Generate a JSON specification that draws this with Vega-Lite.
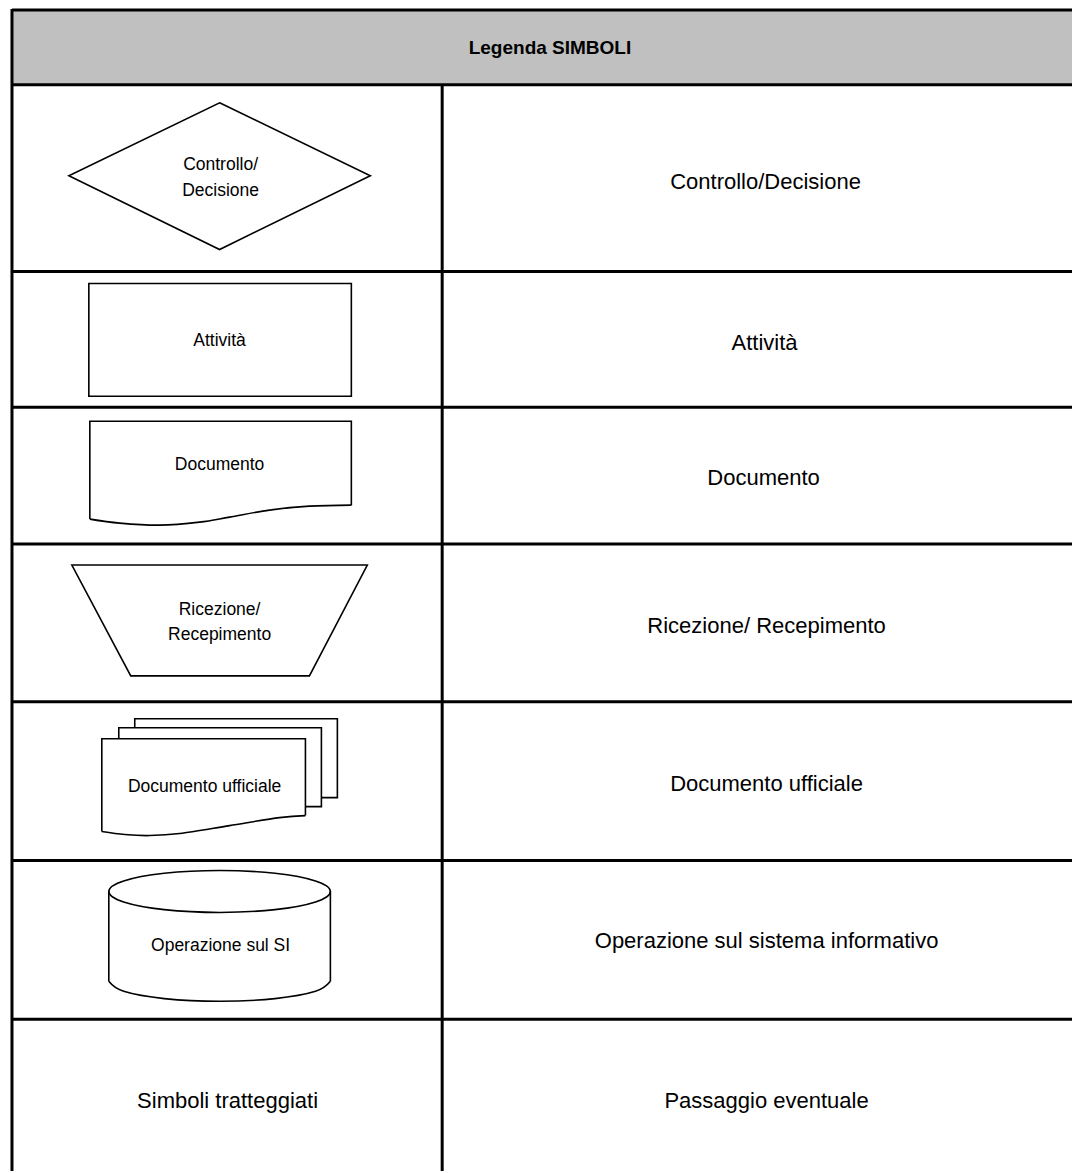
{
  "$schema": "https://vega.github.io/schema/vega-lite/v6.json",
  "width": 1074,
  "height": 1173,
  "autosize": {"type": "fit", "contains": "padding"},
  "padding": 0,
  "background": "white",
  "config": {"view": {"stroke": null}, "font": "Liberation Sans"},
  "datasets": {
    "header": [{"x": 12, "x2": 1074, "y": 10, "y2": 85}],
    "grid": [
      {"x": 12, "x2": 1074, "y": 10, "y2": 10},
      {"x": 12, "x2": 12, "y": 9, "y2": 1173},
      {"x": 12, "x2": 1074, "y": 85, "y2": 85},
      {"x": 12, "x2": 1074, "y": 272, "y2": 272},
      {"x": 12, "x2": 1074, "y": 408, "y2": 408},
      {"x": 12, "x2": 1074, "y": 545, "y2": 545},
      {"x": 12, "x2": 1074, "y": 703, "y2": 703},
      {"x": 12, "x2": 1074, "y": 862, "y2": 862},
      {"x": 12, "x2": 1074, "y": 1021, "y2": 1021},
      {"x": 443, "x2": 443, "y": 85, "y2": 1173}
    ],
    "closed": [
      {"s": "diamond", "i": 0, "x": 220, "y": 103},
      {"s": "diamond", "i": 1, "x": 371, "y": 176},
      {"s": "diamond", "i": 2, "x": 220, "y": 250},
      {"s": "diamond", "i": 3, "x": 69, "y": 176},
      {"s": "rect", "i": 0, "x": 89, "y": 284},
      {"s": "rect", "i": 1, "x": 352, "y": 284},
      {"s": "rect", "i": 2, "x": 352, "y": 397},
      {"s": "rect", "i": 3, "x": 89, "y": 397},
      {"s": "trap", "i": 0, "x": 72, "y": 566},
      {"s": "trap", "i": 1, "x": 368, "y": 566},
      {"s": "trap", "i": 2, "x": 310, "y": 677},
      {"s": "trap", "i": 3, "x": 131, "y": 677}
    ],
    "open": [
      {"s": "doc", "i": 0, "x": 90, "y": 520},
      {"s": "doc", "i": 1, "x": 90, "y": 422},
      {"s": "doc", "i": 2, "x": 352, "y": 422},
      {"s": "doc", "i": 3, "x": 352, "y": 506},
      {"s": "back", "i": 0, "x": 135, "y": 729},
      {"s": "back", "i": 1, "x": 135, "y": 720},
      {"s": "back", "i": 2, "x": 338, "y": 720},
      {"s": "back", "i": 3, "x": 338, "y": 799},
      {"s": "back", "i": 4, "x": 322, "y": 799},
      {"s": "mid", "i": 0, "x": 119, "y": 740},
      {"s": "mid", "i": 1, "x": 119, "y": 729},
      {"s": "mid", "i": 2, "x": 322, "y": 729},
      {"s": "mid", "i": 3, "x": 322, "y": 808},
      {"s": "mid", "i": 4, "x": 306, "y": 808},
      {"s": "front", "i": 0, "x": 102, "y": 833},
      {"s": "front", "i": 1, "x": 102, "y": 740},
      {"s": "front", "i": 2, "x": 306, "y": 740},
      {"s": "front", "i": 3, "x": 306, "y": 817},
      {"s": "cylL", "i": 0, "x": 109, "y": 893},
      {"s": "cylL", "i": 1, "x": 109, "y": 983},
      {"s": "cylR", "i": 0, "x": 331, "y": 893},
      {"s": "cylR", "i": 1, "x": 331, "y": 983}
    ],
    "curves": [
      {"s": "wave1", "i": 0, "x": 90, "y": 520},
      {"s": "wave1", "i": 1, "x": 120, "y": 524},
      {"s": "wave1", "i": 2, "x": 160, "y": 526},
      {"s": "wave1", "i": 3, "x": 200, "y": 523},
      {"s": "wave1", "i": 4, "x": 230, "y": 518},
      {"s": "wave1", "i": 5, "x": 270, "y": 511},
      {"s": "wave1", "i": 6, "x": 310, "y": 507},
      {"s": "wave1", "i": 7, "x": 352, "y": 506},
      {"s": "wave2", "i": 0, "x": 102, "y": 833},
      {"s": "wave2", "i": 1, "x": 125, "y": 836},
      {"s": "wave2", "i": 2, "x": 150, "y": 837},
      {"s": "wave2", "i": 3, "x": 180, "y": 835},
      {"s": "wave2", "i": 4, "x": 230, "y": 827},
      {"s": "wave2", "i": 5, "x": 280, "y": 819},
      {"s": "wave2", "i": 6, "x": 306, "y": 817},
      {"s": "bot", "i": 0, "x": 109, "y": 983},
      {"s": "bot", "i": 1, "x": 123.9, "y": 993},
      {"s": "bot", "i": 2, "x": 164.5, "y": 1000.3},
      {"s": "bot", "i": 3, "x": 220, "y": 1003},
      {"s": "bot", "i": 4, "x": 275.5, "y": 1000.3},
      {"s": "bot", "i": 5, "x": 316.1, "y": 993},
      {"s": "bot", "i": 6, "x": 331, "y": 983}
    ],
    "ellipse": [
      {"s": "top", "i": 0, "x": 331, "y": 893},
      {"s": "top", "i": 1, "x": 316.1, "y": 903.5},
      {"s": "top", "i": 2, "x": 275.5, "y": 911.2},
      {"s": "top", "i": 3, "x": 220, "y": 914},
      {"s": "top", "i": 4, "x": 164.5, "y": 911.2},
      {"s": "top", "i": 5, "x": 123.9, "y": 903.5},
      {"s": "top", "i": 6, "x": 109, "y": 893},
      {"s": "top", "i": 7, "x": 123.9, "y": 882.5},
      {"s": "top", "i": 8, "x": 164.5, "y": 874.8},
      {"s": "top", "i": 9, "x": 220, "y": 872},
      {"s": "top", "i": 10, "x": 275.5, "y": 874.8},
      {"s": "top", "i": 11, "x": 316.1, "y": 882.5}
    ],
    "small": [
      {"t": "Controllo/", "x": 221, "y": 164},
      {"t": "Decisione", "x": 221, "y": 190},
      {"t": "Attività", "x": 220, "y": 341},
      {"t": "Documento", "x": 220, "y": 465},
      {"t": "Ricezione/", "x": 220, "y": 610},
      {"t": "Recepimento", "x": 220, "y": 635},
      {"t": "Documento ufficiale", "x": 205, "y": 787},
      {"t": "Operazione sul SI", "x": 221, "y": 947}
    ],
    "big": [
      {"t": "Simboli tratteggiati", "x": 228, "y": 1102},
      {"t": "Controllo/Decisione", "x": 767, "y": 181},
      {"t": "Attività", "x": 766, "y": 343},
      {"t": "Documento", "x": 765, "y": 478},
      {"t": "Ricezione/ Recepimento", "x": 768, "y": 626},
      {"t": "Documento ufficiale", "x": 768, "y": 784},
      {"t": "Operazione sul sistema informativo", "x": 768, "y": 942},
      {"t": "Passaggio eventuale", "x": 768, "y": 1102}
    ],
    "title": [{"t": "Legenda SIMBOLI", "x": 551, "y": 47}]
  },
  "layer": [
    {
      "data": {"name": "header"},
      "mark": {"type": "rect", "fill": "#c0c0c0"},
      "encoding": {
        "x": {"field": "x", "type": "quantitative", "scale": {"domain": [0, 1074], "nice": false, "zero": false}, "axis": null},
        "x2": {"field": "x2"},
        "y": {"field": "y", "type": "quantitative", "scale": {"domain": [0, 1173], "nice": false, "zero": false, "reverse": true}, "axis": null},
        "y2": {"field": "y2"}
      }
    },
    {
      "data": {"name": "grid"},
      "mark": {"type": "rule", "color": "#000000", "strokeWidth": 3},
      "encoding": {
        "x": {"field": "x", "type": "quantitative"},
        "x2": {"field": "x2"},
        "y": {"field": "y", "type": "quantitative"},
        "y2": {"field": "y2"}
      }
    },
    {
      "data": {"name": "closed"},
      "mark": {"type": "line", "interpolate": "linear-closed", "color": "#000000", "strokeWidth": 1.6},
      "encoding": {
        "x": {"field": "x", "type": "quantitative"},
        "y": {"field": "y", "type": "quantitative"},
        "detail": {"field": "s"},
        "order": {"field": "i"}
      }
    },
    {
      "data": {"name": "open"},
      "mark": {"type": "line", "interpolate": "linear", "color": "#000000", "strokeWidth": 1.6},
      "encoding": {
        "x": {"field": "x", "type": "quantitative"},
        "y": {"field": "y", "type": "quantitative"},
        "detail": {"field": "s"},
        "order": {"field": "i"}
      }
    },
    {
      "data": {"name": "curves"},
      "mark": {"type": "line", "interpolate": "cardinal", "color": "#000000", "strokeWidth": 1.6},
      "encoding": {
        "x": {"field": "x", "type": "quantitative"},
        "y": {"field": "y", "type": "quantitative"},
        "detail": {"field": "s"},
        "order": {"field": "i"}
      }
    },
    {
      "data": {"name": "ellipse"},
      "mark": {"type": "line", "interpolate": "cardinal-closed", "color": "#000000", "strokeWidth": 1.6},
      "encoding": {
        "x": {"field": "x", "type": "quantitative"},
        "y": {"field": "y", "type": "quantitative"},
        "detail": {"field": "s"},
        "order": {"field": "i"}
      }
    },
    {
      "data": {"name": "small"},
      "mark": {"type": "text", "font": "Liberation Sans", "fontSize": 17.5, "color": "#000000", "align": "center", "baseline": "middle", "dy": 1},
      "encoding": {
        "x": {"field": "x", "type": "quantitative"},
        "y": {"field": "y", "type": "quantitative"},
        "text": {"field": "t"}
      }
    },
    {
      "data": {"name": "big"},
      "mark": {"type": "text", "font": "Liberation Sans", "fontSize": 22, "color": "#000000", "align": "center", "baseline": "middle", "dy": 1},
      "encoding": {
        "x": {"field": "x", "type": "quantitative"},
        "y": {"field": "y", "type": "quantitative"},
        "text": {"field": "t"}
      }
    },
    {
      "data": {"name": "title"},
      "mark": {"type": "text", "font": "Liberation Sans", "fontSize": 19, "fontWeight": "bold", "color": "#000000", "align": "center", "baseline": "middle", "dy": 1},
      "encoding": {
        "x": {"field": "x", "type": "quantitative"},
        "y": {"field": "y", "type": "quantitative"},
        "text": {"field": "t"}
      }
    }
  ]
}
